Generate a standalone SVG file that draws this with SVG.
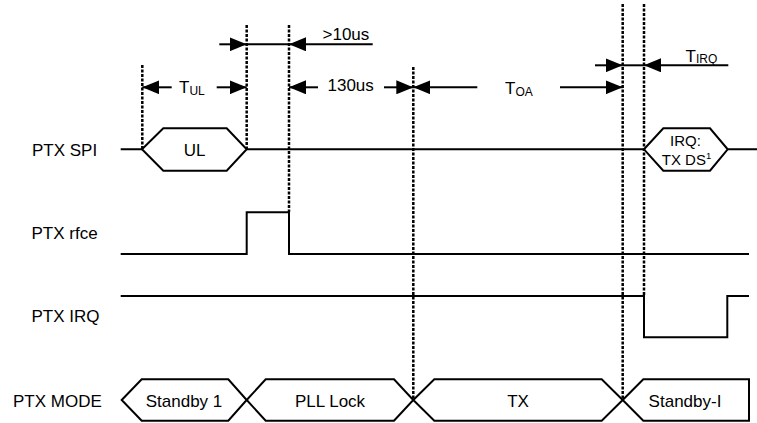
<svg xmlns="http://www.w3.org/2000/svg" width="757" height="423" viewBox="0 0 757 423">
<style>
text{font-family:"Liberation Sans",Arial,sans-serif;font-size:17px;fill:#000}
.m{text-anchor:middle}
.sig{fill:none;stroke:#000;stroke-width:2}
.hex{fill:#fff;stroke:#000;stroke-width:2;stroke-linejoin:miter}
.dash{fill:none;stroke:#000;stroke-width:2.5;stroke-dasharray:3 1.5}
.dim{fill:none;stroke:#000;stroke-width:2}
.arr{marker-end:url(#ah)}
</style>
<defs>
<marker id="ah" markerUnits="userSpaceOnUse" markerWidth="17" markerHeight="14" refX="17" refY="7" orient="auto">
<path d="M0,0 L17,7 L0,14 z" fill="#000"/>
</marker>
</defs>
<rect width="757" height="423" fill="#fff"/>

<g id="labels">
<text x="32" y="156">PTX SPI</text>
<text x="31.5" y="239">PTX rfce</text>
<text x="31.5" y="322">PTX IRQ</text>
<text x="13" y="406.5">PTX MODE</text>
</g>

<g id="ptx-spi">
<path class="sig" d="M120.7,149.3 H142 M246.7,149.3 H644 M727.7,149.3 H757"/>
<polygon class="hex" points="142,149.3 163.3,128.3 226.7,128.3 246.7,149.3 226.7,170.7 163.3,170.7"/>
<text class="m" x="194.5" y="156">UL</text>
<polygon class="hex" points="644,149.3 663.3,128.3 710,128.3 727.7,149.3 710,170.7 663.3,170.7"/>
<text class="m" x="685.5" y="145.5" style="font-size:15px">IRQ:</text>
<text class="m" x="686.5" y="164.5" style="font-size:15px">TX DS<tspan font-size="9.5" dy="-6">1</tspan></text>
</g>

<g id="ptx-rfce">
<path class="sig" d="M120.7,254 H246.7 V212.3 H289 V254 H749"/>
</g>

<g id="ptx-irq">
<path class="sig" d="M120.7,296 H644 V337.3 H727.3 V296 H749"/>
</g>

<g id="ptx-mode">
<polygon class="hex" points="121.7,400 141.7,379.3 228.3,379.3 246.7,400 228.3,420.7 141.7,420.7"/>
<polygon class="hex" points="246.7,400 265.7,379.3 394,379.3 413.3,400 394,420.7 265.7,420.7"/>
<polygon class="hex" points="413.3,400 434.3,379.3 601.7,379.3 622.7,400 601.7,420.7 434.3,420.7"/>
<polygon class="hex" points="622.7,400 643.3,379.3 749,379.3 749,420.7 643.3,420.7"/>
<text class="m" x="184" y="406.5">Standby 1</text>
<text class="m" x="330" y="406.5">PLL Lock</text>
<text class="m" x="518" y="406.5">TX</text>
<text class="m" x="685" y="406.5">Standby-I</text>
</g>

<g id="connectors">
<path class="dash" d="M142.3,65 V149 M246.7,25 V149 M289,25 V212 M413.3,67 V400 M622.7,4 V400 M644,4 V296"/>
<line class="dim arr" x1="219.3" y1="44.3" x2="246.7" y2="44.3"/>
<line class="dim" x1="246.7" y1="44.3" x2="289" y2="44.3"/>
<line class="dim arr" x1="372.7" y1="44.3" x2="289" y2="44.3"/>
<line class="dim arr" x1="171.7" y1="87.3" x2="142.3" y2="87.3"/>
<line class="dim arr" x1="216.7" y1="87.3" x2="246.7" y2="87.3"/>
<line class="dim arr" x1="318" y1="87.3" x2="289" y2="87.3"/>
<line class="dim arr" x1="384" y1="87.3" x2="413.3" y2="87.3"/>
<line class="dim arr" x1="477.3" y1="87.3" x2="413.3" y2="87.3"/>
<line class="dim arr" x1="560" y1="87.3" x2="622.7" y2="87.3"/>
<line class="dim arr" x1="595" y1="65.3" x2="622.7" y2="65.3"/>
<line class="dim" x1="622.7" y1="65.3" x2="644" y2="65.3"/>
<line class="dim arr" x1="728.3" y1="65.3" x2="644" y2="65.3"/>
</g>

<g id="dimension-labels">
<text x="322.5" y="39.5">&gt;10us</text>
<text x="179" y="93">T<tspan font-size="12" dy="1.5">UL</tspan></text>
<text x="327.5" y="91">130us</text>
<text x="505" y="94">T<tspan font-size="12" dy="1.5">OA</tspan></text>
<text x="685.5" y="61.5">T<tspan font-size="12" dy="1.5">IRQ</tspan></text>
</g>
</svg>
